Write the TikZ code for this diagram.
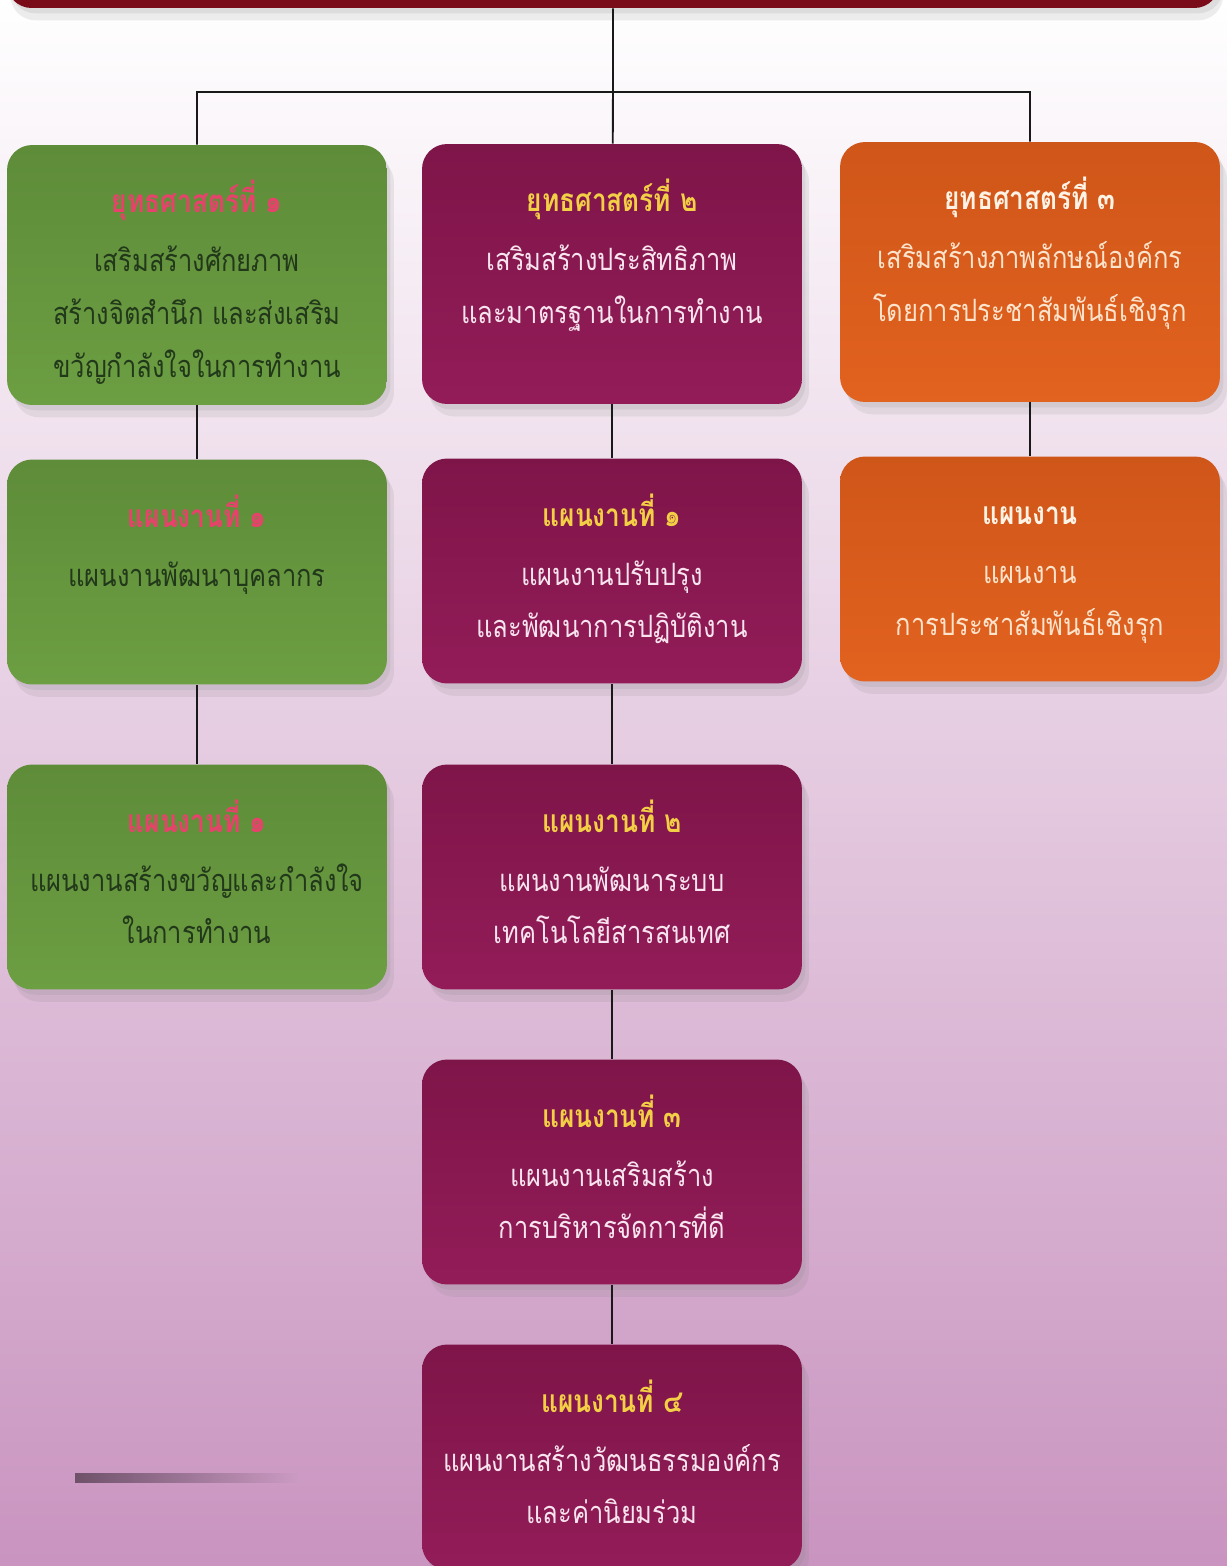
\documentclass[tikz,border=0pt]{standalone}
\usepackage{fontspec}
\newfontfamily\thaifont[Script=Thai,FakeStretch=0.83]{Loma}
\usetikzlibrary{shadows}

\definecolor{gbase}{HTML}{6C9E42}
\definecolor{gtop}{HTML}{5E8C39}
\definecolor{gtext}{HTML}{22381A}
\definecolor{ghead}{HTML}{E8416B}
\definecolor{mbase}{HTML}{931C58}
\definecolor{mtop}{HTML}{7E1549}
\definecolor{mtext}{HTML}{F7E4EE}
\definecolor{mhead}{HTML}{F3CF45}
\definecolor{obase}{HTML}{E2621F}
\definecolor{otop}{HTML}{CF5619}
\definecolor{otext}{HTML}{FBE3CC}
\definecolor{ohead}{HTML}{FFF3E6}
\definecolor{barred}{HTML}{7A0B18}
\definecolor{bgmid}{HTML}{EBDDED}
\definecolor{bgbot}{HTML}{C994C0}

\newcommand{\boxtext}[3]{\parbox[c][#1][t]{7.2cm}{\centering\vspace*{0.62cm}%
  {\color{head}\bfseries\fontsize{18}{30}\selectfont\strut #2}\par\vspace{0.12cm}#3}}

\begin{document}
\begin{tikzpicture}[x=0.02cm,y=-0.02cm,
    box/.style={draw=none,rounded corners=0.5cm,inner sep=0pt,minimum width=7.6cm,
      top color=#1top,middle color=#1base,bottom color=#1base,text=#1text,
      drop shadow={opacity=0.14,shadow xshift=2pt,shadow yshift=-3pt},
      drop shadow={opacity=0.14,shadow xshift=4pt,shadow yshift=-7pt},
      execute at begin node={\colorlet{head}{#1head}}},
    link/.style={draw=black!90,line width=1.1pt},
    font={\thaifont\fontsize{17.5}{30}\selectfont}]

  \useasboundingbox (0,0) rectangle (1227,1566);
  \clip (0,0) rectangle (1227,1566);
  \shade [top color=white,middle color=bgmid,bottom color=bgbot] (0,0) rectangle (1227,1566);
  \shade [left color=black!45!bgbot,right color=bgbot!90!bgmid] (75,1473) rectangle (300,1482);

  \node [fill=barred,rounded corners=0.5cm,minimum width=24.26cm,minimum height=1.12cm,
    drop shadow={opacity=0.14,shadow yshift=-3pt},
    drop shadow={opacity=0.14,shadow yshift=-7pt}] (Top) at (613,-20) {};

  % strategies
  \node [box=g] (S_1) at (197,275) {\boxtext{5.2cm}{ยุทธศาสตร์ที่ ๑}{เสริมสร้างศักยภาพ\\สร้างจิตสำนึก และส่งเสริม\\ขวัญกำลังใจในการทำงาน}};
  \node [box=m] (S_2) at (612,274) {\boxtext{5.2cm}{ยุทธศาสตร์ที่ ๒}{เสริมสร้างประสิทธิภาพ\\และมาตรฐานในการทำงาน}};
  \node [box=o] (S_3) at (1030,272) {\boxtext{5.2cm}{ยุทธศาสตร์ที่ ๓}{เสริมสร้างภาพลักษณ์องค์กร\\โดยการประชาสัมพันธ์เชิงรุก}};

  % plans
  \node [box=g] (P_1_1) at (197,572) {\boxtext{4.5cm}{แผนงานที่ ๑}{แผนงานพัฒนาบุคลากร}};
  \node [box=g] (P_1_2) at (197,877) {\boxtext{4.5cm}{แผนงานที่ ๑}{แผนงานสร้างขวัญและกำลังใจ\\ในการทำงาน}};
  \node [box=m] (P_2_1) at (612,571) {\boxtext{4.5cm}{แผนงานที่ ๑}{แผนงานปรับปรุง\\และพัฒนาการปฏิบัติงาน}};
  \node [box=m] (P_2_2) at (612,877) {\boxtext{4.5cm}{แผนงานที่ ๒}{แผนงานพัฒนาระบบ\\เทคโนโลยีสารสนเทศ}};
  \node [box=m] (P_2_3) at (612,1172) {\boxtext{4.5cm}{แผนงานที่ ๓}{แผนงานเสริมสร้าง\\การบริหารจัดการที่ดี}};
  \node [box=m] (P_2_4) at (612,1457) {\boxtext{4.5cm}{แผนงานที่ ๔}{แผนงานสร้างวัฒนธรรมองค์กร\\และค่านิยมร่วม}};
  \node [box=o] (P_3_1) at (1030,569) {\boxtext{4.5cm}{แผนงาน}{แผนงาน\\การประชาสัมพันธ์เชิงรุก}};

  \coordinate (Bus) at (613,92);

  \path [link]
    (Top) -- (Bus)
    (Bus) -- (S_2)
    (Bus) -| (S_1)
    (Bus) -| (S_3)

    (S_1)   edge (P_1_1)
    (P_1_1) edge (P_1_2)
    (S_2)   edge (P_2_1)
    (P_2_1) edge (P_2_2)
    (P_2_2) edge (P_2_3)
    (P_2_3) edge (P_2_4)
    (S_3)   edge (P_3_1);

\end{tikzpicture}
\end{document}
